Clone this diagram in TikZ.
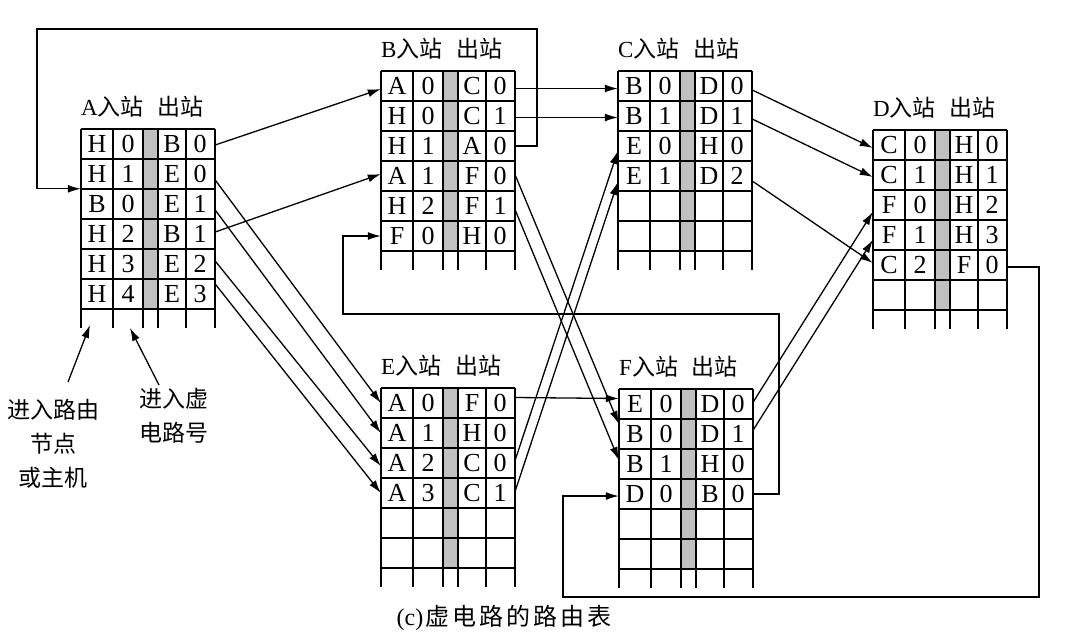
\documentclass[tikz,border=0pt]{standalone}
\usepackage{fontspec}
\setmainfont{Liberation Serif}
\newfontfamily\cjk{Noto Sans CJK SC}
\usetikzlibrary{arrows.meta}
\definecolor{cellgrey}{RGB}{192,192,192}
\tikzset{
  tabline/.style={line width=1.6pt},
  conn/.style={line width=1.3pt},
  arr/.style={conn,-{Latex[length=13pt,width=8pt]}},
  rowbox/.style={minimum width=134pt,minimum height=30pt,inner sep=0pt},
  cell/.style={inner sep=0pt,font=\fontsize{26}{26}\selectfont},
  ttl/.style={anchor=west,inner sep=0pt,font=\fontsize{23}{23}\selectfont},
  lbl/.style={inner sep=0pt,align=center,font=\cjk\fontsize{23}{34}\selectfont}
}
% #1 name, #2 x, #3 y, #4 title letter
\newcommand\rtab[4]{%
  \begin{scope}[shift={(#2,#3)}]
    \fill[cellgrey] (62,0) rectangle (77,180);
    \foreach \i in {0,...,6} \draw[tabline] (0,30*\i) -- (134,30*\i);
    \foreach \c in {0,32,62,77,105,134} \draw[tabline] (\c,0) -- (\c,199);
    \foreach \i in {1,...,6} \node[rowbox] (#1\i) at (67,30*\i-15) {};
    \node[ttl] (#1t) at (0,-22) {#4{\cjk 入站\hspace{14pt}出站}};
  \end{scope}}
% #1 name, #2 row, #3-#6 cell texts
\newcommand\rrow[6]{%
  \node[cell] (#1#2a) at ([xshift=-51pt]#1#2.center) {#3};
  \node[cell] (#1#2b) at ([xshift=-20pt]#1#2.center) {#4};
  \node[cell] (#1#2c) at ([xshift=24pt]#1#2.center) {#5};
  \node[cell] (#1#2d) at ([xshift=52pt]#1#2.center) {#6};}
\begin{document}
\begin{tikzpicture}[x=1pt,y=-1pt]
\useasboundingbox (0,0) rectangle (1081,643);

\rtab{A}{81}{129}{A}
\rtab{B}{381}{71}{B}
\rtab{C}{618}{71}{C}
\rtab{D}{873}{130}{D}
\rtab{E}{381}{388}{E}
\rtab{F}{619}{389}{F}

\rrow{A}{1}{H}{0}{B}{0}
\rrow{A}{2}{H}{1}{E}{0}
\rrow{A}{3}{B}{0}{E}{1}
\rrow{A}{4}{H}{2}{B}{1}
\rrow{A}{5}{H}{3}{E}{2}
\rrow{A}{6}{H}{4}{E}{3}

\rrow{B}{1}{A}{0}{C}{0}
\rrow{B}{2}{H}{0}{C}{1}
\rrow{B}{3}{H}{1}{A}{0}
\rrow{B}{4}{A}{1}{F}{0}
\rrow{B}{5}{H}{2}{F}{1}
\rrow{B}{6}{F}{0}{H}{0}

\rrow{C}{1}{B}{0}{D}{0}
\rrow{C}{2}{B}{1}{D}{1}
\rrow{C}{3}{E}{0}{H}{0}
\rrow{C}{4}{E}{1}{D}{2}

\rrow{D}{1}{C}{0}{H}{0}
\rrow{D}{2}{C}{1}{H}{1}
\rrow{D}{3}{F}{0}{H}{2}
\rrow{D}{4}{F}{1}{H}{3}
\rrow{D}{5}{C}{2}{F}{0}

\rrow{E}{1}{A}{0}{F}{0}
\rrow{E}{2}{A}{1}{H}{0}
\rrow{E}{3}{A}{2}{C}{0}
\rrow{E}{4}{A}{3}{C}{1}

\rrow{F}{1}{E}{0}{D}{0}
\rrow{F}{2}{B}{0}{D}{1}
\rrow{F}{3}{B}{1}{H}{0}
\rrow{F}{4}{D}{0}{B}{0}

% A -> B
\draw[arr] ([yshift=-1pt]A1.east) -- ([yshift=-3pt]B1.west);
\draw[arr] ([yshift=2pt]A4.east) -- ([yshift=2pt]B4.west);
% A -> E
\draw[arr] ([yshift=-6pt]A2.east) -- (E1.west);
\draw[arr] ([yshift=-6pt]A3.east) -- (E2.west);
\draw[arr] ([yshift=3pt]A5.east) -- ([yshift=-3pt]E3.west);
\draw[arr] ([yshift=10pt]A6.east) -- (E4.west);
% B -> C
\draw[arr] ([yshift=-2.5pt]B1.east) -- ([yshift=-2.5pt]C1.west);
\draw[arr] ([yshift=-1.5pt]B2.east) -- ([yshift=-1.5pt]C2.west);
% B -> F
\draw[arr] ([yshift=1pt]B4.east) -- ([yshift=10pt]F2.west);
\draw[arr] ([yshift=-4pt]B5.east) -- ([yshift=4pt]F3.west);
% E -> C
\draw[arr] ([yshift=3pt]E3.east) -- ([yshift=-5pt]C3.west);
\draw[arr] ([yshift=2pt]E4.east) -- ([yshift=-6pt]C4.west);
% E -> F
\draw[arr] ([yshift=5.5pt]E1.east) -- ([yshift=5.5pt]F1.west);
% C -> D
\draw[arr] ([yshift=-4pt]C1.east) -- ([yshift=-3pt]D1.west);
\draw[arr] ([yshift=-3pt]C2.east) -- ([yshift=-2pt]D2.west);
\draw[arr] ([yshift=-5pt]C4.east) -- ([yshift=2pt]D5.west);
% F -> D
\draw[arr] ([yshift=2pt]F1.east) -- ([yshift=-7pt]D3.west);
\draw[arr] ([yshift=4pt]F2.east) -- ([yshift=-5pt]D4.west);

% loops
\coordinate (l1a) at (537,29);
\coordinate (l1b) at (37,29);
\draw[arr] (B3.east) -| (l1a) -- (l1b) |- (A3.north west);
\coordinate (l2a) at (779,314);
\coordinate (l2b) at (343,314);
\draw[arr] (F4.east) -| (l2a) -- (l2b) |- (B6.west);
\coordinate (l3a) at (1039,597);
\coordinate (l3b) at (563,597);
\draw[arr] ([yshift=-2pt]D5.east) -| (l3a) -- (l3b) |- ([yshift=-2pt]F4.west);

% labels
\node[lbl] (lab1) at (53,444) {进入路由\\节点\\或主机};
\node[lbl] (lab2) at (174,416) {进入虚\\电路号};
\coordinate (s1) at (68,382);
\coordinate (p1) at (90,325);
\coordinate (s2) at (159,385);
\coordinate (p2) at (130,328);
\draw[arr] (s1) -- (p1);
\draw[arr] (s2) -- (p2);

\node[inner sep=0pt,font=\fontsize{24}{24}\selectfont] (cap) at (504,618)
  {(c)\hspace{2pt}{\cjk 虚\hspace{3pt}电\hspace{3pt}路\hspace{3pt}的\hspace{3pt}路\hspace{3pt}由\hspace{3pt}表}};
\end{tikzpicture}
\end{document}
